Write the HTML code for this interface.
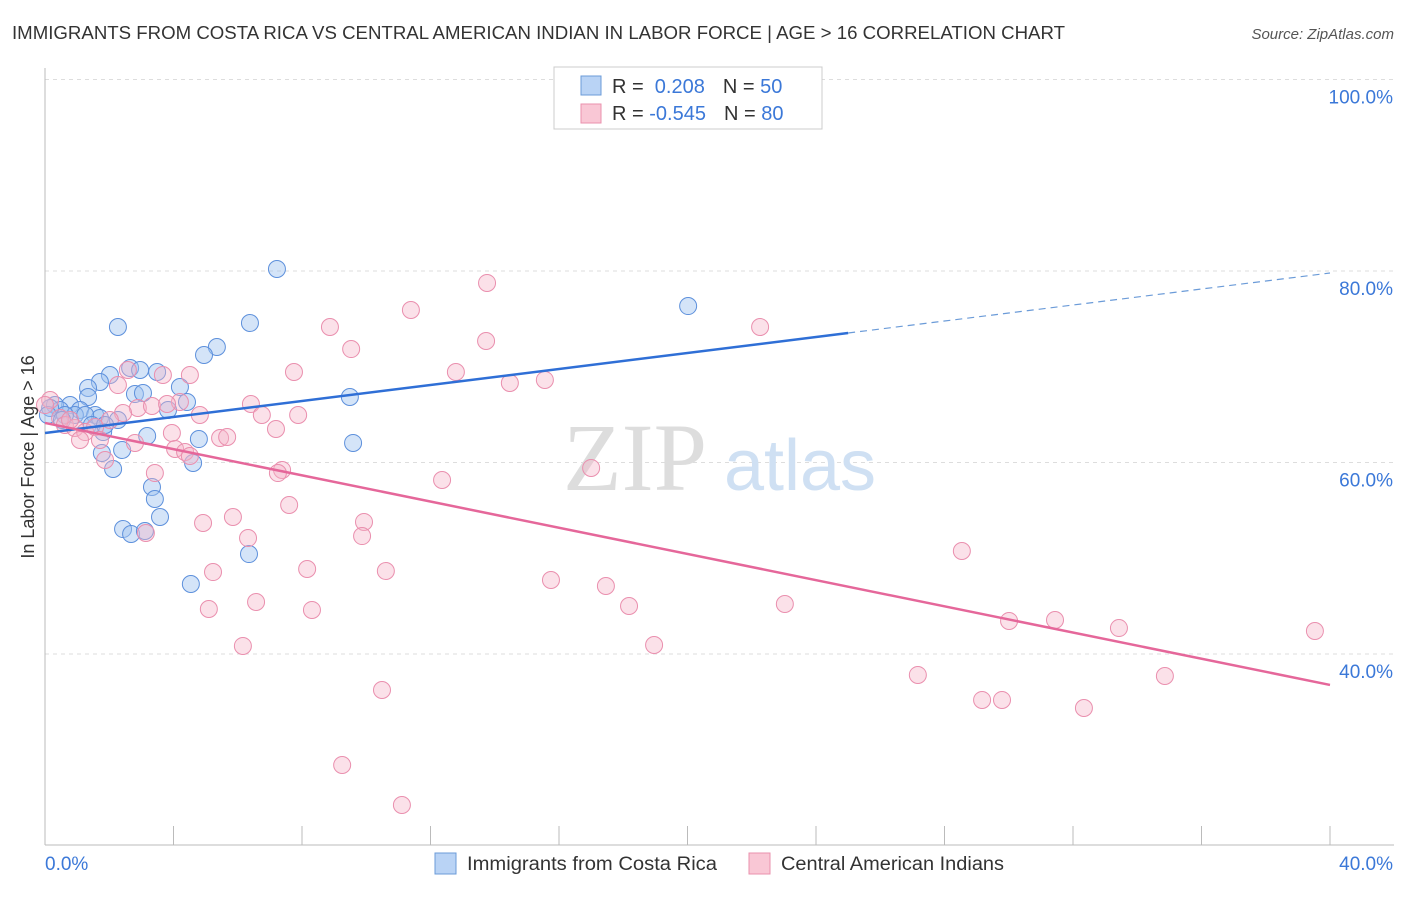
<!DOCTYPE html>
<html><head><meta charset="utf-8"><style>
body{margin:0;background:#fff;font-family:"Liberation Sans",sans-serif;}
</style></head><body>
<svg id="chart" width="1406" height="892" xmlns="http://www.w3.org/2000/svg" style="font-family:'Liberation Sans',sans-serif">
<text x="12" y="39" font-size="18" fill="#333" textLength="1053" lengthAdjust="spacingAndGlyphs">IMMIGRANTS FROM COSTA RICA VS CENTRAL AMERICAN INDIAN IN LABOR FORCE | AGE &gt; 16 CORRELATION CHART</text>
<text x="1394" y="39" font-size="15" fill="#555" font-style="italic" text-anchor="end">Source: ZipAtlas.com</text>
<g id="grid"></g>
<g>
<text x="635" y="490" font-size="96" fill="#ddd" font-family="Liberation Serif" text-anchor="middle">ZIP</text>
<text x="800" y="490" font-size="72" fill="#cfe0f3" text-anchor="middle">atlas</text>
</g>
<line x1="45" y1="68" x2="45" y2="845" stroke="#bbb"/>
<line x1="45" y1="845" x2="1394" y2="845" stroke="#bbb"/>
<g id="ticks"></g>
<g id="pts"></g>
<g id="lines"></g>
<text transform="translate(34,457) rotate(-90)" font-size="18" fill="#333" text-anchor="middle">In Labor Force | Age &gt; 16</text>
<g>
<rect x="554" y="67" width="268" height="62" fill="#fff" stroke="#ccc"/>
<rect x="581" y="76" width="20" height="19" fill="#b9d3f5" stroke="#6b9bd8"/>
<rect x="581" y="104" width="20" height="19" fill="#f9c7d5" stroke="#ea90ad"/>
<text x="612" y="93" font-size="20" fill="#333">R = <tspan fill="#3b78d8">&#160;0.208</tspan><tspan dx="18">N = </tspan><tspan fill="#3b78d8">50</tspan></text>
<text x="612" y="120" font-size="20" fill="#333">R = <tspan fill="#3b78d8">-0.545</tspan><tspan dx="18">N = </tspan><tspan fill="#3b78d8">80</tspan></text>
</g>
<g>
<rect x="435" y="853" width="21" height="21" fill="#b9d3f5" stroke="#6b9bd8"/>
<text x="467" y="870" font-size="19" fill="#333" textLength="250" lengthAdjust="spacingAndGlyphs">Immigrants from Costa Rica</text>
<rect x="749" y="853" width="21" height="21" fill="#f9c7d5" stroke="#ea90ad"/>
<text x="781" y="870" font-size="19" fill="#333" textLength="223" lengthAdjust="spacingAndGlyphs">Central American Indians</text>
</g>
</svg>
<script>
const blueX=[7.22,20.02,2.27,6.38,5.35,4.95,2.65,3.49,2.02,2.96,1.71,1.34,4.20,2.80,3.05,1.34,4.42,3.83,0.78,0.31,0.47,1.09,0.93,1.56,0.62,1.71,2.27,9.49,3.18,4.79,9.59,1.81,2.40,1.77,4.61,2.12,3.33,3.42,3.58,2.43,2.68,3.11,6.35,4.54,0.16,0.09,1.25,0.53,1.46,1.87];
const blueY=[80.21,76.34,74.15,74.57,72.06,71.23,69.87,69.45,69.14,69.66,68.41,67.78,67.88,67.15,67.26,66.84,66.32,65.48,66.0,66.0,65.48,65.48,64.96,64.96,64.96,64.65,64.44,66.84,62.77,62.45,62.04,63.18,61.31,60.99,59.95,59.32,57.44,56.19,54.31,53.05,52.53,52.85,50.44,47.31,65.69,64.96,64.96,64.44,63.92,63.92];
const pinkX=[13.76,11.39,22.26,8.87,13.73,9.53,7.75,12.79,14.47,15.56,2.27,3.67,2.58,4.51,4.20,4.82,6.41,6.75,7.88,7.19,2.89,2.43,3.33,3.80,0.16,0.0,0.47,0.62,0.93,1.25,1.56,2.02,2.80,3.95,4.05,4.36,4.51,5.45,5.67,7.38,7.25,1.87,3.42,17.0,12.36,7.60,4.92,5.85,9.93,9.87,6.32,3.14,28.54,5.23,8.16,10.61,15.75,17.46,6.57,5.10,8.31,18.18,23.03,30.01,31.44,33.43,39.53,18.96,6.16,27.17,34.86,10.49,29.17,29.79,32.34,9.25,11.11,1.09,0.78,1.71];
const pinkY=[78.75,75.93,74.15,74.15,72.69,71.85,69.45,69.45,68.30,68.62,68.09,69.14,69.66,69.14,66.32,64.96,66.11,64.96,64.96,63.50,65.69,65.17,65.90,66.11,66.53,66.0,64.65,63.92,63.60,63.18,63.71,64.44,62.04,63.08,61.41,61.10,60.68,62.56,62.66,59.22,58.90,60.26,58.90,59.43,58.17,55.56,53.68,54.31,53.79,52.32,52.11,52.64,50.76,48.56,48.88,48.67,47.73,47.10,45.43,44.70,44.60,45.01,45.22,43.45,43.55,42.71,42.40,40.94,40.84,37.81,37.70,36.24,35.20,35.20,34.36,28.41,24.23,62.35,64.44,62.35];
const yTicks=[100,80,60,40];
const yTickLabels=["100.0%","80.0%","60.0%","40.0%"];
const xTicks=[0,4,8,12,16,20,24,28,32,36,40];
const blueTrend=[63.08,79.79]; const blueSolidEnd=25;
const pinkTrend=[64.13,36.77];
const NS="http://www.w3.org/2000/svg";
const sx=v=>45+v/40*1285, sy=v=>654-(v-40)/20*191.5;
function mk(t,a,p){const e=document.createElementNS(NS,t);for(const k in a)e.setAttribute(k,a[k]);p.appendChild(e);return e;}
const grid=document.getElementById('grid'),ticks=document.getElementById('ticks');
yTicks.forEach((v,i)=>{const l=mk('line',{x1:45,x2:1394,y1:sy(v),y2:sy(v),stroke:'#ddd','stroke-dasharray':'4,4'},grid);

const t=mk('text',{x:1393,y:sy(v)+24,'font-size':19,fill:'#3b78d8','text-anchor':'end'},ticks);t.textContent=yTickLabels[i];
});
xTicks.forEach(v=>{const l=mk('line',{x1:sx(v),x2:sx(v),y1:826,y2:845,stroke:'#bbb'},ticks);
});
[[0,'0.0%','start',45],[40,'40.0%','end',1393]].forEach(a=>{const t=mk('text',{x:a[3],y:870,'font-size':19,fill:'#3b78d8','text-anchor':a[2]},ticks);t.textContent=a[1];
});
const pts=document.getElementById('pts');
blueX.forEach((x,i)=>{const c=mk('circle',{cx:sx(x),cy:sy(blueY[i]),r:8.5,fill:'rgba(160,195,240,0.45)',stroke:'#5d90dc','stroke-width':1},pts);
});
pinkX.forEach((x,i)=>{const c=mk('circle',{cx:sx(x),cy:sy(pinkY[i]),r:8.5,fill:'rgba(246,180,200,0.4)',stroke:'#ea8fae','stroke-width':1},pts);
});
const lines=document.getElementById('lines');
const by=x=>blueTrend[0]+(blueTrend[1]-blueTrend[0])*x/40;
let l1=mk('line',{x1:sx(0),y1:sy(by(0)),x2:sx(blueSolidEnd),y2:sy(by(blueSolidEnd)),stroke:'#2f6fd6','stroke-width':2.5},lines);

let l2=mk('line',{x1:sx(blueSolidEnd),y1:sy(by(blueSolidEnd)),x2:sx(40),y2:sy(by(40)),stroke:'#6b9bd8','stroke-width':1.2,'stroke-dasharray':'7,5'},lines);

let l3=mk('line',{x1:sx(0),y1:sy(pinkTrend[0]),x2:sx(40),y2:sy(pinkTrend[1]),stroke:'#e5679a','stroke-width':2.5},lines);

</script>
</body></html>
